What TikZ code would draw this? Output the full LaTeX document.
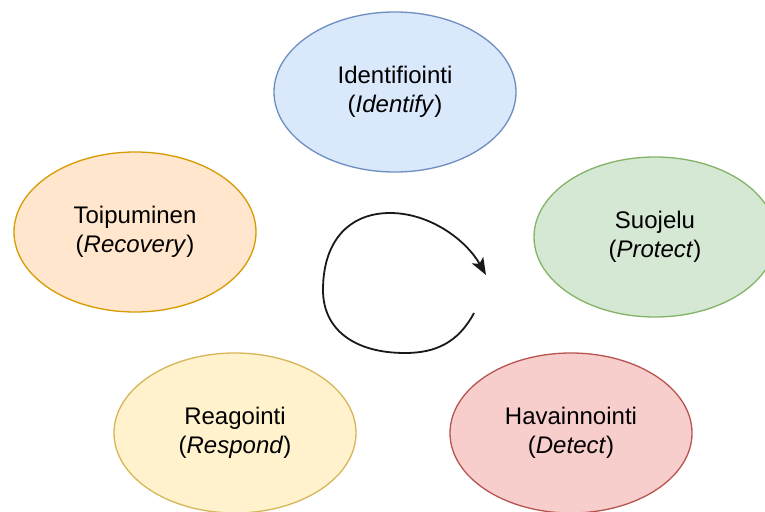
\documentclass[tikz,border=0pt]{standalone}
\usepackage{fontspec}
\setmainfont{Liberation Sans}
\usetikzlibrary{shapes.geometric,arrows.meta}

\definecolor{blueFill}{HTML}{DAE8FC}\definecolor{blueLine}{HTML}{6C8EBF}
\definecolor{orangeFill}{HTML}{FFE6CC}\definecolor{orangeLine}{HTML}{D79B00}
\definecolor{greenFill}{HTML}{D5E8D4}\definecolor{greenLine}{HTML}{82B366}
\definecolor{yellowFill}{HTML}{FFF2CC}\definecolor{yellowLine}{HTML}{D6B656}
\definecolor{redFill}{HTML}{F8CECC}\definecolor{redLine}{HTML}{B85450}

\tikzset{
  phase/.style={ellipse, draw=#1Line, fill=#1Fill, line width=1.3pt,
    minimum width=242pt, minimum height=160pt, inner sep=0pt,
    align=center, text=black, font=\fontsize{24}{29}\selectfont},
  cycle arrow/.style={line width=1.8pt, black!90,
    -{Stealth[length=17pt,width=13pt,inset=4pt]}}
}

\begin{document}
\begin{tikzpicture}[x=1pt,y=-1pt]
  \useasboundingbox (0,0) rectangle (765,511);
  \clip (0,0) rectangle (765,511);
  \fill[white] (0,0) rectangle (765,511);

  \node[phase=blue]   (identify) at (395,92)  {Identifiointi\\(\textit{Identify})};
  \node[phase=orange] (recover)  at (135,232) {Toipuminen\\(\textit{Recovery})};
  \node[phase=green]  (protect)  at (655,237) {Suojelu\\(\textit{Protect})};
  \node[phase=yellow] (respond)  at (235,433) {Reagointi\\(\textit{Respond})};
  \node[phase=red]    (detect)   at (571,433) {Havainnointi\\(\textit{Detect})};

  % the cycle in the middle
  \coordinate (cycStart) at (474,313);
  \coordinate (cycEnd)   at (486,275);
  \draw[cycle arrow] (cycStart)
     .. controls (458,343) and (435,353) .. (405,353)
     .. controls (355,353) and (323,330) .. (323,290)
     .. controls (323,240) and (350,213) .. (390,213)
     .. controls (430,213) and (466,240) .. (cycEnd);
\end{tikzpicture}
\end{document}
